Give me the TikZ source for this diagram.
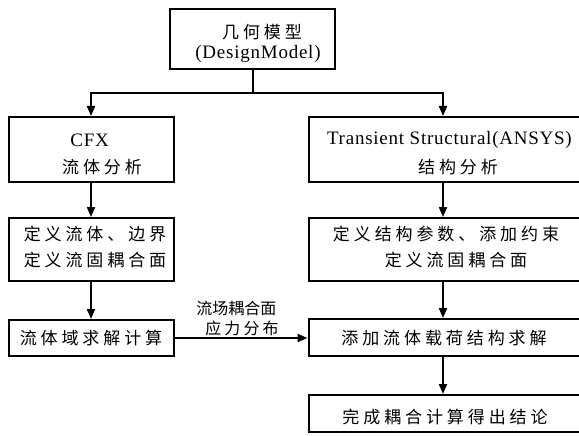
\documentclass[tikz,border=0pt]{standalone}
\usepackage{fontspec}
\setmainfont{Liberation Serif}[LetterSpace=4]
\newfontfamily\cjk[LetterSpace=23]{Noto Sans CJK SC}
\newfontfamily\cjklab{Noto Sans CJK SC}
\newfontfamily\cjklabw[LetterSpace=19]{Noto Sans CJK SC}
\usetikzlibrary{arrows.meta}
\begin{document}
\begin{tikzpicture}[x=1pt,y=-1pt,
  box/.style={draw,line width=2pt,rectangle,inner sep=0pt,minimum width=165pt},
  wbox/.style={draw,line width=2pt,rectangle,inner sep=0pt,minimum width=322pt},
  arr/.style={line width=2pt,-{Triangle[length=10pt,width=8pt]}},
  ln/.style={line width=2pt},
  zh/.style={inner sep=0pt,font=\cjk\fontsize{17}{19}\selectfont},
  en/.style={inner sep=0pt,font=\fontsize{19}{21}\selectfont},
  lab/.style={inner sep=0pt,font=\cjklab\fontsize{16}{18}\selectfont},
  labw/.style={inner sep=0pt,font=\cjklabw\fontsize{16}{18}\selectfont}]
\clip (0,0) rectangle (579,436);
% boxes
\node[box,minimum height=60pt] (top) at (252.5,39) {};
\node[box,minimum height=65pt] (cfx) at (91,149.5) {};
\node[wbox,minimum height=65pt] (r1) at (469.5,149.5) {};
\node[box,minimum height=63pt] (l2) at (91,249.5) {};
\node[wbox,minimum height=63pt] (r2) at (469.5,249.5) {};
\node[box,minimum height=36pt] (l3) at (91,338) {};
\node[wbox,minimum height=37pt] (r3) at (469.5,337.5) {};
\node[wbox,minimum height=37pt] (r4) at (469.5,413.5) {};
% texts
\node[zh] (t1a) at (262,32) {几何模型};
\node[en] (t1b) at (258,54) {(DesignModel)};
\node[en] (t2a) at (89.6,140) {CFX};
\node[zh] (t2b) at (102,167) {流体分析};
\node[en] (t3a) at (449.4,140) {Transient Structural(ANSYS)};
\node[zh] (t3b) at (458,167) {结构分析};
\node[zh] (t4a) at (95,234) {定义流体、边界};
\node[zh] (t4b) at (95,260) {定义流固耦合面};
\node[zh] (t5a) at (446,234) {定义结构参数、添加约束};
\node[zh] (t5b) at (456,260) {定义流固耦合面};
\node[zh] (t6) at (91,338) {流体域求解计算};
\node[zh] (t7) at (444,338) {添加流体载荷结构求解};
\node[zh] (t8) at (445,417) {完成耦合计算得出结论};
\node[lab] (la) at (236.4,308) {流场耦合面};
\node[labw] (lb) at (242,328) {应力分布};
% connectors
\coordinate (sp) at (253,93);
\coordinate (rx) at (443,0);
\draw[ln] (top.south -| sp) -- (sp);
\draw[arr] (sp) -| (cfx.north);
\draw[arr] (sp) -| (r1.north -| rx);
\draw[arr] (cfx.south) -- (l2.north);
\draw[arr] (r1.south -| rx) -- (r2.north -| rx);
\draw[arr] (l2.south) -- (l3.north);
\draw[arr] (r2.south -| rx) -- (r3.north -| rx);
\draw[arr] (l3.east) -- (l3.east -| r3.west);
\draw[arr] (r3.south -| rx) -- (r4.north -| rx);
\end{tikzpicture}
\end{document}
